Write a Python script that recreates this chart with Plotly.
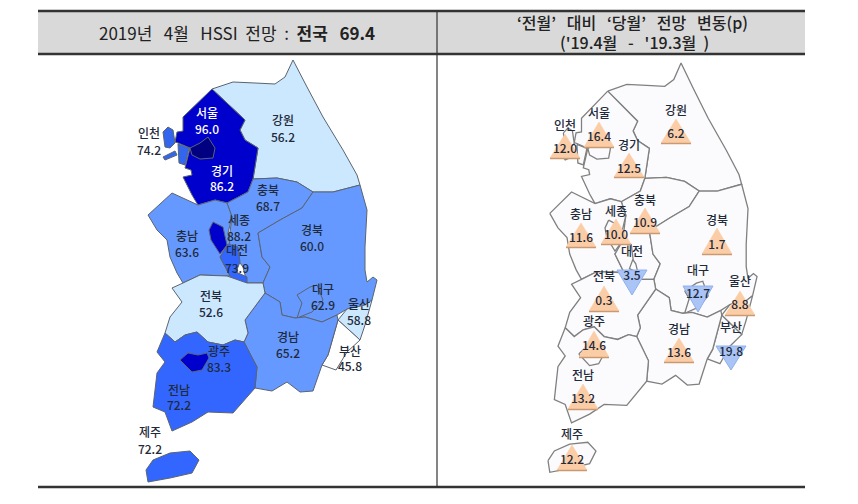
import plotly.graph_objects as go

FONT = "Noto Sans CJK KR"

region_names = ["강원", "경기", "서울", "인천", "충북", "충남", "세종", "대전", "경북", "대구",
                "울산", "부산", "경남", "전북", "전남", "광주", "제주"]
index_values = [56.2, 86.2, 96.0, 74.2, 68.7, 63.6, 88.2, 73.9, 60.0, 62.9,
                58.8, 45.8, 65.2, 52.6, 72.2, 83.3, 72.2]
change_values = [6.2, 12.5, 16.4, 12.0, 10.9, 11.6, 10.0, 3.5, 1.7, 12.7,
                 8.8, 19.8, 13.6, 0.3, 13.2, 14.6, 12.2]
change_falling = ["대전", "대구", "부산"]

# map outlines (image-space tracing of the province borders)
outlines = {
    "강원": [[(212,89),(233,82),(255,83),(275,84),(285,77),(293,60),(307,87),(323,117),(343,150),(357,175),(360,185),(333,192),(313,192),(297,182),(277,178),(253,179),(258,148),(245,140),(240,130),(245,120),(227,103)]],
    "경기": [[(212,89),(245,120),(240,130),(245,140),(258,148),(253,179),(248,192),(227,203),(215,200),(198,205),(192,195),(183,177),(192,175),(191,170),(185,168),(188,157),(190,148),(178,143),(175,142),(177,132),(183,131),(183,117),(197,103)]],
    "서울": [[(208,137),(215,148),(213,158),(200,159),(192,155),(190,148),(200,143)]],
    "인천": [[(163,132),(168,127),(173,130),(175,143),(170,148),(165,147)],
             [(163,157),(175,151),(177,155),(165,160)],
             [(178,144),(189,148),(185,165),(179,163)]],
    "충북": [[(253,179),(277,178),(297,182),(313,192),(302,208),(280,220),(258,233),(262,257),(270,267),(263,283),(247,283),(243,267),(228,247),(232,217),(227,203),(248,192)]],
    "충남": [[(148,215),(172,193),(198,205),(215,200),(227,203),(232,217),(228,233),(230,245),(220,257),(230,276),(200,275),(183,283),(177,273),(170,257),(167,240),(157,230)]],
    "세종": [[(213,222),(223,227),(227,245),(220,254),(211,240),(209,230)]],
    "대전": [[(228,244),(238,247),(240,262),(236,272),(247,277),(247,283),(240,285),(232,285),(230,276),(220,257)]],
    "경북": [[(360,185),(333,192),(313,192),(302,208),(280,220),(258,233),(262,257),(270,267),(263,283),(265,293),(280,302),(282,315),(295,318),(305,317),(322,322),(337,315),(347,309),(365,305),(372,300),(377,280),(373,277),(367,282),(365,270),(365,247),(367,210)]],
    "대구": [[(297,295),(310,287),(317,285),(323,300),(312,312),(297,318),(302,303)]],
    "울산": [[(338,320),(347,309),(365,305),(372,300),(365,325),(360,340)]],
    "부산": [[(338,320),(360,340),(347,352),(336,370),(322,365),(328,355)]],
    "경남": [[(265,293),(245,320),(248,333),(244,342),(257,367),(255,388),(272,391),(287,382),(300,392),(313,391),(322,365),(328,355),(338,320),(337,315),(322,322),(305,317),(295,318),(282,315),(280,302)]],
    "전북": [[(183,283),(200,275),(227,276),(247,283),(263,283),(265,293),(245,320),(248,333),(244,342),(235,340),(223,345),(208,342),(197,332),(185,335),(175,342),(165,333),(170,317),(182,302),(172,288)]],
    "전남": [[(165,333),(175,342),(185,335),(197,332),(208,342),(223,345),(235,340),(244,342),(257,367),(255,388),(233,413),(208,412),(192,422),(172,431),(165,412),(153,407),(157,373),(165,362),(157,352)]],
    "광주": [[(180,360),(188,353),(198,355),(207,353),(209,358),(202,370),(192,372)]],
    "제주": [[(146,470),(153,460),(170,453),(190,451),(199,460),(192,473),(170,478),(148,482)]],
}
region_colors = {
    "강원": "#cce8ff", "경기": "#0000cc", "서울": "#000080", "인천": "#3366ee",
    "충북": "#6699ff", "충남": "#6699ff", "세종": "#0000cc", "대전": "#3366ff",
    "경북": "#6699ff", "대구": "#6699ff", "울산": "#cce8ff", "부산": "#ffffff",
    "경남": "#6699ff", "전북": "#cce8ff", "전남": "#3366ff", "광주": "#0000cc",
    "제주": "#3366ff",
}
white_text = ["서울", "경기"]

# label anchors: left map (x, name y, value y) and right map (x, name y, triangle top y, triangle bottom y, value y)
left_labels = {
    "서울": (207,115,131), "경기": (222,173,188), "인천": (149,135,152), "강원": (283,122,139),
    "충북": (268,192,208), "세종": (239,222,238), "대전": (237,252,270), "충남": (187,238,254),
    "경북": (312,232,248), "전북": (211,298,314), "대구": (323,291,307), "울산": (359,306,322),
    "경남": (288,339,355), "부산": (350,353,368), "광주": (219,353,369), "전남": (179,392,407),
    "제주": (150,434,451),
}
right_labels = {
    "인천": (565,127,134,158,150), "서울": (599,115,122,147,138), "강원": (676,112,119,143,135),
    "경기": (629,147,153,177,170), "충남": (581,216,223,247,239), "세종": (616,213,219,244,236),
    "충북": (645,202,208,233,224), "대전": (632,253,270,295,277), "경북": (717,222,228,254,246),
    "전북": (604,278,286,311,302), "대구": (698,272,286,312,295), "울산": (740,283,291,315,306),
    "부산": (731,329,346,370,353), "경남": (679,331,338,362,354), "광주": (594,323,331,357,347),
    "전남": (583,377,384,409,400), "제주": (572,436,445,470,461),
}

NB = "\u00a0"
header_left = f"2019년{NB*3}4월{NB*3}HSSI{NB*2}전망{NB*2}:{NB*2}<b>전국{NB*3}69.4</b>"
header_right_1 = f"‘전월’{NB*3}대비{NB*3}‘당월’{NB*3}전망{NB*3}변동(p)"
header_right_2 = f"('19.4월{NB*3}-{NB*3}'19.3월{NB*2})"


def to_right(pt):
    return 548 + (pt[0] - 146) * 0.905, 63 + (pt[1] - 60) * 0.97


def ring_xy(rings, fn=lambda p: p):
    xs, ys = [], []
    for ring in rings:
        for p in ring + ring[:1]:
            x, y = fn(p)
            xs.append(x)
            ys.append(y)
        xs.append(None)
        ys.append(None)
    return xs, ys


fig = go.Figure()

for name in region_names:
    xs, ys = ring_xy(outlines[name])
    fig.add_trace(go.Scatter(x=xs, y=ys, mode="lines", fill="toself", name=name,
                             fillcolor=region_colors[name],
                             line=dict(color="#5a6470", width=1)))
for name in region_names:
    xs, ys = ring_xy(outlines[name], to_right)
    fig.add_trace(go.Scatter(x=xs, y=ys, mode="lines", fill="toself", name=name,
                             fillcolor="#fbfbfd",
                             line=dict(color="#808080", width=1.3)))

for name, chg in zip(region_names, change_values):
    x, _, top, bottom, _ = right_labels[name]
    half = 15
    if name in change_falling:
        xs, ys = [x - half, x + half, x, x - half], [top, top, bottom, top]
        fig.add_trace(go.Scatter(x=xs, y=ys, mode="lines", fill="toself", fillcolor="#a9c4f5",
                                 line=dict(color="#8fb0ee", width=1), name=name))
    else:
        xs, ys = [x - half, x + half, x, x - half], [bottom, bottom, top, bottom]
        fig.add_trace(go.Scatter(x=xs, y=ys, mode="lines", fill="toself", fillcolor="#fbcda6",
                                 line=dict(color="#fbcda6", width=0.5), name=name))
        fig.add_trace(go.Scatter(x=[x - half, x + half], y=[bottom + 0.5, bottom + 0.5], mode="lines",
                                 line=dict(color="#c99a72", width=1.5), name=name))

lx, ly, lt, lc = [], [], [], []
for name, val in zip(region_names, index_values):
    x, y1, y2 = left_labels[name]
    col = "#ffffff" if name in white_text else "#1f2a3a"
    lx += [x, x]
    ly += [y1, y2]
    lt += [name, f"{val:.1f}"]
    lc += [col, col]
fig.add_trace(go.Scatter(x=lx, y=ly, mode="text", text=lt,
                         textfont=dict(family=FONT, size=12, color=lc, weight=500),
                         textposition="middle center"))

rx, ry, rt = [], [], []
for name, chg in zip(region_names, change_values):
    x, y1, _, _, y2 = right_labels[name]
    rx += [x, x]
    ry += [y1, y2]
    rt += [name, f"{chg:.1f}"]
fig.add_trace(go.Scatter(x=rx, y=ry, mode="text", text=rt,
                         textfont=dict(family=FONT, size=12, color="#1f2a3a", weight=500),
                         textposition="middle center"))

shapes = [
    dict(type="rect", x0=38, x1=805, y0=11, y1=54, fillcolor="#d9d9d9", line=dict(width=0), layer="below"),
    dict(type="line", x0=38, x1=805, y0=11, y1=11, line=dict(color="#333333", width=2.5)),
    dict(type="line", x0=38, x1=805, y0=54, y1=54, line=dict(color="#333333", width=2.5)),
    dict(type="line", x0=38, x1=805, y0=487, y1=487, line=dict(color="#333333", width=2.5)),
    dict(type="line", x0=437, x1=437, y0=11, y1=487, line=dict(color="#333333", width=1.2)),
]
annotations = [
    dict(x=237, y=32, text=header_left, showarrow=False, font=dict(family=FONT, size=17, color="#222222")),
    dict(x=632, y=22, text=header_right_1, showarrow=False, font=dict(family=FONT, size=16, color="#222222", weight=500)),
    dict(x=634, y=42, text=header_right_2, showarrow=False, font=dict(family=FONT, size=16, color="#222222", weight=500)),
]

# the page puts the plot 8 px in from its corner, so the axes start at 8 to keep image positions
fig.update_layout(
    width=858, height=504, margin=dict(l=0, r=0, t=0, b=0),
    plot_bgcolor="white", paper_bgcolor="white", showlegend=False,
    xaxis=dict(range=[8, 866], visible=False, fixedrange=True),
    yaxis=dict(range=[512, 8], visible=False, fixedrange=True),
    shapes=shapes, annotations=annotations,
)
fig.write_html("out.html")
